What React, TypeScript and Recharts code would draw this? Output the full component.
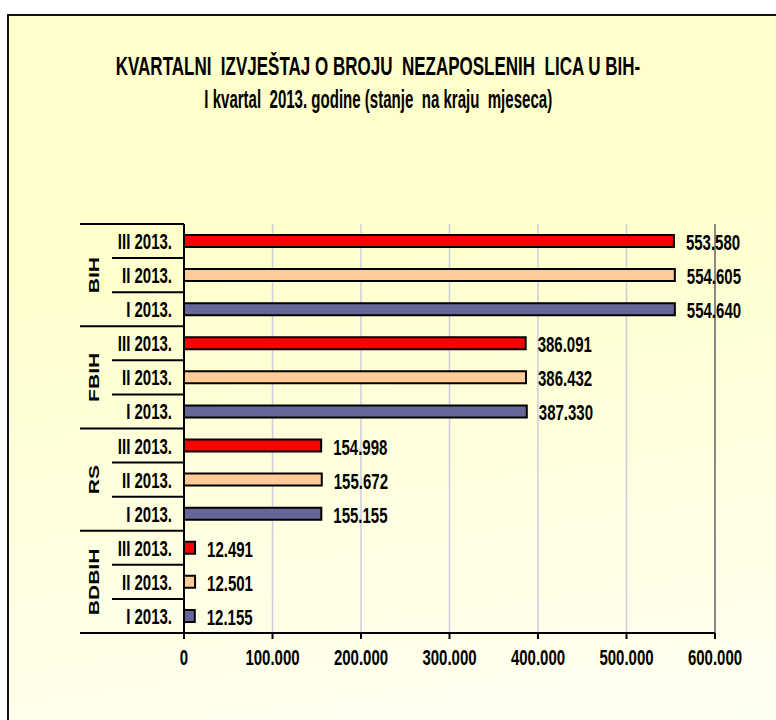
import React from 'react';
import { BarChart, Bar, XAxis, YAxis, CartesianGrid, Cell, LabelList, ReferenceLine } from 'recharts';

const groups = ['BIH', 'FBIH', 'RS', 'BDBIH'];
const periods = ['III 2013.', 'II 2013.', 'I 2013.'];
const bihValues = [553580, 554605, 554640];
const fbihValues = [386091, 386432, 387330];
const rsValues = [154998, 155672, 155155];
const bdbihValues = [12491, 12501, 12155];
const periodColors = ['#FF0000', '#FFCC99', '#666699'];
const xTicks = [0, 100000, 200000, 300000, 400000, 500000, 600000];
const titleLine1 = 'KVARTALNI  IZVJEŠTAJ O BROJU  NEZAPOSLENIH  LICA U BIH-';
const titleLine2 = 'I kvartal  2013. godine (stanje  na kraju  mjeseca)';

const groupValues = [bihValues, fbihValues, rsValues, bdbihValues];
const rows = groups.flatMap((g, gi) =>
  periods.map((p, pi) => ({
    key: g + '|' + p,
    group: g,
    period: p,
    gi,
    pi,
    value: groupValues[gi][pi],
    color: periodColors[pi],
  }))
);

const FONT = '"Liberation Sans", Arial, Helvetica, sans-serif';
const SY = 1.48;

const fmt = (v: number) => String(v).replace(/\B(?=(\d{3})+(?!\d))/g, '.');

const YTick = (props: any) => {
  const { y, payload, index } = props;
  const half = payload && payload.offset ? payload.offset : 17;
  const row = rows[index];
  const isGroupEnd = index % 3 === 2;
  return (
    <g>
      {index === 0 && (
        <line x1={80} x2={184} y1={y - half} y2={y - half} stroke="#000" strokeWidth={2} />
      )}
      <line x1={isGroupEnd ? 80 : 112} x2={184} y1={y + half} y2={y + half} stroke="#000" strokeWidth={2} />
      <text
        transform={`translate(172, ${y}) scale(1, ${SY})`}
        textAnchor="end"
        dy="0.36em"
        fontFamily={FONT}
        fontWeight="bold"
        fontSize={15}
        fill="#000"
      >
        {row ? row.period : ''}
      </text>
      {index % 3 === 1 && row && (
        <text
          transform={`translate(94, ${y}) scale(1, 1.45) rotate(-90)`}
          textAnchor="middle"
          dy="0.36em"
          fontFamily={FONT}
          fontWeight="bold"
          fontSize={14.5}
          fill="#000"
        >
          {row.group}
        </text>
      )}
    </g>
  );
};

const XTick = (props: any) => {
  const { x, y, payload } = props;
  return (
    <text
      transform={`translate(${x}, ${y + 16}) scale(1, ${SY})`}
      textAnchor="middle"
      dy="0.36em"
      fontFamily={FONT}
      fontWeight="bold"
      fontSize={15}
      fill="#000"
    >
      {fmt(payload.value)}
    </text>
  );
};

const ValueLabel = (props: any) => {
  const { x, y, width, height, value } = props;
  return (
    <text
      transform={`translate(${x + width + 12}, ${y + height / 2 + 1}) scale(1, ${SY})`}
      textAnchor="start"
      dy="0.36em"
      fontFamily={FONT}
      fontWeight="bold"
      fontSize={15}
      fill="#000"
    >
      {fmt(value)}
    </text>
  );
};

const titleStyle = (top: number, sx: number): React.CSSProperties => ({
  position: 'absolute',
  left: 0,
  width: 756,
  top,
  height: 20,
  lineHeight: '20px',
  textAlign: 'center',
  fontFamily: FONT,
  fontWeight: 'bold',
  fontSize: 17,
  color: '#000',
  whiteSpace: 'pre',
  transform: `scale(${sx}, 1.5)`,
  transformOrigin: '380px 10px',
});

export default function App() {
  return (
    <div
      style={{
        position: 'absolute',
        left: 0,
        top: 0,
        width: 776,
        height: 720,
        overflow: 'hidden',
        background: '#fff',
      }}
    >
      <div
        style={{
          position: 'absolute',
          left: 7,
          top: 14,
          width: 820,
          height: 780,
          border: '2px solid #111',
          background: 'linear-gradient(172deg, #FFFFCC 0%, #FFFFCC 30%, #FFFFE4 65%, #FFFFF6 100%)',
        }}
      />
      <div style={titleStyle(57, 1)}>{titleLine1}</div>
      <div style={titleStyle(90, 0.885)}>{titleLine2}</div>
      <div style={{ position: 'absolute', left: 0, top: 0 }}>
        <BarChart
          width={776}
          height={720}
          data={rows}
          layout="vertical"
          margin={{ top: 224, right: 61, bottom: 57, left: 0 }}
          barCategoryGap={0}
        >
          <CartesianGrid horizontal={false} vertical={true} stroke="#CCCCE0" strokeWidth={1.5} />
          <XAxis
            type="number"
            dataKey="value"
            domain={[0, 600000]}
            ticks={xTicks}
            interval={0}
            height={30}
            tick={<XTick />}
            tickLine={{ stroke: '#000', strokeWidth: 2 }}
            tickSize={6}
            axisLine={{ stroke: '#000', strokeWidth: 2 }}
          />
          <XAxis
            xAxisId="top"
            orientation="top"
            type="number"
            domain={[0, 600000]}
            height={0}
            tick={false}
            tickLine={false}
            axisLine={{ stroke: '#888', strokeWidth: 2 }}
          />
          <YAxis
            type="category"
            dataKey="key"
            width={184}
            interval={0}
            tick={<YTick />}
            tickLine={false}
            axisLine={{ stroke: '#000', strokeWidth: 2 }}
          />
          <ReferenceLine x={600000} stroke="#888" strokeWidth={2} />
          <Bar dataKey="value" barSize={12} stroke="#000" strokeWidth={2} isAnimationActive={false}>
            {rows.map((r) => (
              <Cell key={r.key} fill={r.color} />
            ))}
            <LabelList dataKey="value" content={<ValueLabel />} />
          </Bar>
        </BarChart>
      </div>
    </div>
  );
}
